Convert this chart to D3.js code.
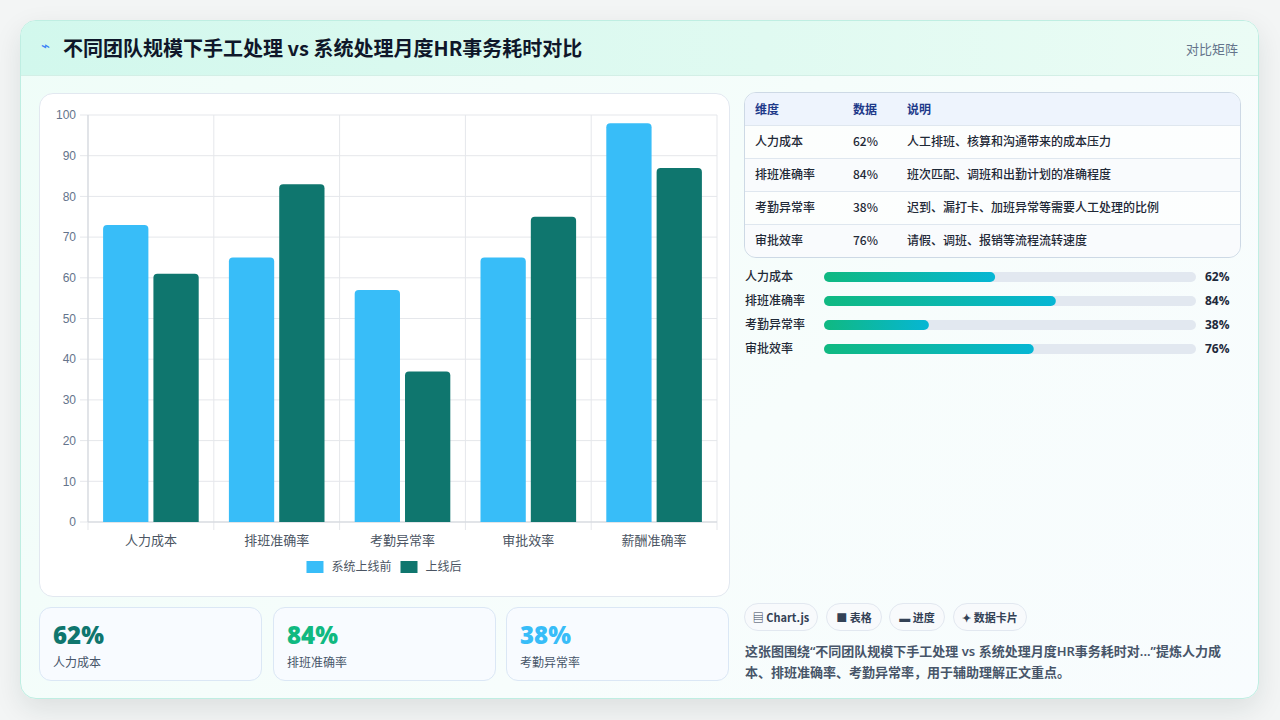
<!DOCTYPE html>
<html>
<head>
<meta charset="utf-8">
<script src="https://cdn.jsdelivr.net/npm/d3@7/dist/d3.min.js"></script>
<style>
  html, body { margin: 0; padding: 0; }
  body { width: 1280px; height: 720px; background: #f3f5f5; position: relative; overflow: hidden;
         font-family: "Noto Sans CJK SC", "Noto Sans", sans-serif; }
  .card { position: absolute; left: 20px; top: 20px; width: 1237px; height: 677px; border-radius: 16px;
          border: 1px solid #bfeee2; background: linear-gradient(135deg, #effdf8 0%, #f7fdfc 60%, #f8fcfe 100%);
          box-shadow: 0 10px 28px rgba(15, 40, 40, 0.10); overflow: hidden; }
  .header { position: absolute; left: 0; top: 0; width: 1237px; height: 54px;
            background: linear-gradient(90deg, #d2f8ed 0%, #e0faf1 60%, #ebfcf5 100%);
            border-bottom: 1px solid #d3efe6; }
  .abs { position: absolute; }
  .title { left: 42px; top: 13px; font-size: 20px; font-weight: 700; color: #0f172a; white-space: nowrap; line-height: 28px; }
  .icon { left: 20px; top: 16px; font-size: 15px; color: #3b82f6; font-family: "DejaVu Sans", sans-serif; }
  .tag { right: 20px; top: 18px; font-size: 13px; color: #64748b; }
  .panel { background: #ffffff; border: 1px solid #e2e8f0; border-radius: 14px; }
  .tbl { border: 1px solid #cdd9e5; border-radius: 12px; overflow: hidden; background: rgba(255,255,255,0.55); }
  .row { position: absolute; left: 0; width: 100%; border-top: 1px solid #dfe7ef; }
  .cell { position: absolute; font-size: 12px; color: #1f2937; font-weight: 500; white-space: nowrap; }
  .hcell { position: absolute; font-size: 12px; color: #1e3a8a; font-weight: 700; }
  .kpi { background: #f8fbff; border: 1px solid #dbe7f5; border-radius: 12px; }
  .kpiv { position: absolute; left: 13px; top: 10px; font-size: 24px; font-weight: 800; font-family: "Open Sans", "Noto Sans", sans-serif; }
  .kpil { position: absolute; left: 13px; top: 45px; font-size: 12px; color: #475569; }
  .chip { height: 26px; border: 1px solid #e2e8f0; border-radius: 14px; background: #f8fafc; font-size: 11px; font-weight: 700;
          color: #334155; line-height: 26px; text-align: center; white-space: nowrap; }
  .desc { left: 724px; top: 620px; width: 484px; font-size: 13px; font-weight: 600; color: #475569; line-height: 21px;
          font-family: "Noto Sans", "Noto Sans CJK SC", sans-serif; }
</style>
</head>
<body>
<div class="card" id="card">
  <div class="header">
    <div class="abs icon">⌁</div>
    <div class="abs title" id="title"></div>
    <div class="abs tag" id="tag"></div>
  </div>
</div>
<script>
// ---------- data ----------
const titleText = "不同团队规模下手工处理 vs 系统处理月度HR事务耗时对比";
const tagText = "对比矩阵";
const categories = ["人力成本", "排班准确率", "考勤异常率", "审批效率", "薪酬准确率"];
const seriesNames = ["系统上线前", "上线后"];
const beforeValues = [73, 65, 57, 65, 98];
const afterValues = [61, 83, 37, 75, 87];
const yMax = 100;
const yTickStep = 10;

const tableHeaders = ["维度", "数据", "说明"];
const tableDims = ["人力成本", "排班准确率", "考勤异常率", "审批效率"];
const tableValues = [62, 84, 38, 76];
const tableNotes = [
  "人工排班、核算和沟通带来的成本压力",
  "班次匹配、调班和出勤计划的准确程度",
  "迟到、漏打卡、加班异常等需要人工处理的比例",
  "请假、调班、报销等流程流转速度"
];

const kpiValues = [62, 84, 38];
const kpiLabels = ["人力成本", "排班准确率", "考勤异常率"];

const chipLabels = ["▤ Chart.js", "■ 表格", "▬ 进度", "✦ 数据卡片"];
const descText = "这张图围绕“不同团队规模下手工处理 vs 系统处理月度HR事务耗时对...”提炼人力成本、排班准确率、考勤异常率，用于辅助理解正文重点。";

// ---------- styles ----------
const colors = ["#38bdf8", "#0f766e"];
const kpiColors = ["#0f766e", "#10b981", "#38bdf8"];

const card = d3.select("#card");
d3.select("#title").text(titleText);
d3.select("#tag").text(tagText);

// ---------- bar chart ----------
const chartPanel = card.append("div").attr("class", "abs panel")
  .style("left", "18px").style("top", "72px").style("width", "689px").style("height", "502px");
const W = 689, H = 502;
const svg = chartPanel.append("svg").attr("width", W).attr("height", H).style("position", "absolute").style("left", 0).style("top", 0);
const ox = 40, oy = 94; // panel content origin in page coords
const plot = { left: 88 - ox, right: 717 - ox, top: 115 - oy, bottom: 522 - oy };

const x0 = d3.scaleBand().domain(categories).range([plot.left, plot.right]).paddingInner(0).paddingOuter(0);
const y = d3.scaleLinear().domain([0, yMax]).range([plot.bottom, plot.top]);
const yTicks = d3.range(0, yMax + 1, yTickStep);

// horizontal grid
svg.append("g").selectAll("line").data(yTicks).join("line")
  .attr("x1", plot.left - 8).attr("x2", plot.right)
  .attr("y1", d => y(d)).attr("y2", d => y(d))
  .attr("stroke", "#e5e7eb").attr("stroke-width", 1);
// vertical grid (category boundaries)
const bounds = categories.map(c => x0(c)).concat([plot.right]);
svg.append("g").selectAll("line").data(bounds).join("line")
  .attr("x1", d => d).attr("x2", d => d)
  .attr("y1", plot.top).attr("y2", plot.bottom + 8)
  .attr("stroke", "#e5e7eb").attr("stroke-width", 1);
// axis lines
svg.append("line").attr("x1", plot.left).attr("x2", plot.left).attr("y1", plot.top).attr("y2", plot.bottom)
  .attr("stroke", "#d1d5db");
svg.append("line").attr("x1", plot.left).attr("x2", plot.right).attr("y1", plot.bottom).attr("y2", plot.bottom)
  .attr("stroke", "#d1d5db");

// y tick labels
svg.append("g").selectAll("text").data(yTicks).join("text")
  .attr("x", plot.left - 12).attr("y", d => y(d)).attr("dy", "0.35em")
  .attr("text-anchor", "end").attr("font-size", 12).attr("fill", "#64748b")
  .attr("font-family", "Liberation Sans, Arial, sans-serif")
  .text(d => d);

// bars
const groupW = x0.bandwidth() * 0.8;
const barW = groupW / 2 * 0.9;
function barPath(xl, w, yt, yb, r) {
  r = Math.min(r, w / 2, yb - yt);
  return `M${xl},${yb}V${yt + r}Q${xl},${yt} ${xl + r},${yt}H${xl + w - r}Q${xl + w},${yt} ${xl + w},${yt + r}V${yb}Z`;
}
const series = [beforeValues, afterValues];
series.forEach((vals, si) => {
  svg.append("g").selectAll("path").data(vals).join("path")
    .attr("d", (v, i) => {
      const c = x0(categories[i]) + x0.bandwidth() / 2;
      const slotStart = c - groupW / 2 + si * groupW / 2;
      const xl = slotStart + (groupW / 2 - barW) / 2;
      return barPath(xl, barW, y(v), y(0), 4);
    })
    .attr("fill", colors[si]);
});

// x labels
svg.append("g").selectAll("text").data(categories).join("text")
  .attr("x", d => x0(d) + x0.bandwidth() / 2).attr("y", 540 - oy).attr("dy", "0.35em")
  .attr("text-anchor", "middle").attr("font-size", 13).attr("fill", "#4b5563")
  .attr("font-family", "Liberation Sans, Noto Sans CJK SC, sans-serif")
  .text(d => d);

// legend (centered on the panel)
const legend = svg.append("g");
const legendItems = legend.selectAll("g").data(seriesNames).join("g");
legendItems.append("rect").attr("width", 17).attr("height", 12).attr("y", -6).attr("fill", (d, i) => colors[i]);
legendItems.append("text").attr("x", 25).attr("dy", "0.35em").attr("font-size", 12).attr("fill", "#4b5563")
  .attr("font-family", "Liberation Sans, Noto Sans CJK SC, sans-serif").text(d => d);
let lx = 0;
const widths = [];
legendItems.each(function () { widths.push(this.getBBox().width); });
legendItems.attr("transform", (d, i) => { const t = `translate(${lx},0)`; lx += widths[i] + 9; return t; });
const totalW = lx - 9;
legend.attr("transform", `translate(${384 - ox - totalW / 2},${567 - oy})`);

// ---------- table ----------
const tbl = card.append("div").attr("class", "abs tbl")
  .style("left", "723px").style("top", "71px").style("width", "495px").style("height", "164px");
const colX = [10, 108, 162];
const head = tbl.append("div").attr("class", "row").style("top", "0px").style("height", "32px")
  .style("background", "#eef4fd").style("border-top", "none");
head.selectAll("div").data(tableHeaders).join("div").attr("class", "hcell")
  .style("left", (d, i) => colX[i] + "px").style("top", "7px").text(d => d);
tableDims.forEach((dim, i) => {
  const r = tbl.append("div").attr("class", "row").style("top", (32 + i * 33) + "px").style("height", "33px")
    .style("background", i % 2 === 1 ? "rgba(248,250,252,0.7)" : "rgba(255,255,255,0.3)");
  const vals = [dim, tableValues[i] + "%", tableNotes[i]];
  r.selectAll("div").data(vals).join("div").attr("class", "cell")
    .style("left", (d, j) => colX[j] + "px").style("top", "6px").text(d => d);
});

// ---------- progress bars ----------
// svg local x = page x - 740
const prog = card.append("svg").attr("class", "abs").style("left", "719px").style("top", "240px")
  .attr("width", 500).attr("height", 120);
const defs = prog.append("defs");
const grad = defs.append("linearGradient").attr("id", "pg").attr("x1", "0%").attr("x2", "100%");
grad.append("stop").attr("offset", "0%").attr("stop-color", "#10b981");
grad.append("stop").attr("offset", "100%").attr("stop-color", "#06b6d4");
const labelX = 5, trackX = 84, trackW = 372;
const pScale = d3.scaleLinear().domain([0, 100]).range([0, 276]);
const pRows = prog.selectAll("g").data(tableDims).join("g")
  .attr("transform", (d, i) => `translate(0,${277 - 261 + i * 24})`);
pRows.append("text").attr("x", labelX).attr("dy", "0.35em").attr("font-size", 12).attr("fill", "#1f2937")
  .attr("font-weight", 500).text(d => d);
pRows.append("rect").attr("x", trackX).attr("y", -5).attr("width", trackW).attr("height", 10).attr("rx", 5)
  .attr("fill", "#e2e8f0");
pRows.append("rect").attr("x", trackX).attr("y", -5).attr("width", (d, i) => pScale(tableValues[i])).attr("height", 10).attr("rx", 5)
  .attr("fill", "url(#pg)");
pRows.append("text").attr("x", trackX + trackW + 9).attr("dy", "0.35em").attr("font-size", 12).attr("font-weight", 700)
  .attr("fill", "#1e293b").attr("font-family", "Open Sans, Noto Sans CJK SC, sans-serif")
  .text((d, i) => tableValues[i] + "%");

// ---------- KPI cards ----------
const kpiLeft = [18, 252, 485];
kpiValues.forEach((v, i) => {
  const k = card.append("div").attr("class", "abs kpi")
    .style("left", kpiLeft[i] + "px").style("top", "586px").style("width", "221px").style("height", "72px");
  k.append("div").attr("class", "kpiv").style("color", kpiColors[i]).text(v + "%");
  k.append("div").attr("class", "kpil").text(kpiLabels[i]);
});

// ---------- chips ----------
const chipLeft = [723, 805, 868, 932];
const chipW = [72, 54, 54, 72];
chipLabels.forEach((c, i) => {
  card.append("div").attr("class", "abs chip")
    .style("left", chipLeft[i] + "px").style("top", "582px").style("width", chipW[i] + "px").text(c);
});

// ---------- description ----------
card.append("div").attr("class", "abs desc").text(descText);
</script>
</body>
</html>
